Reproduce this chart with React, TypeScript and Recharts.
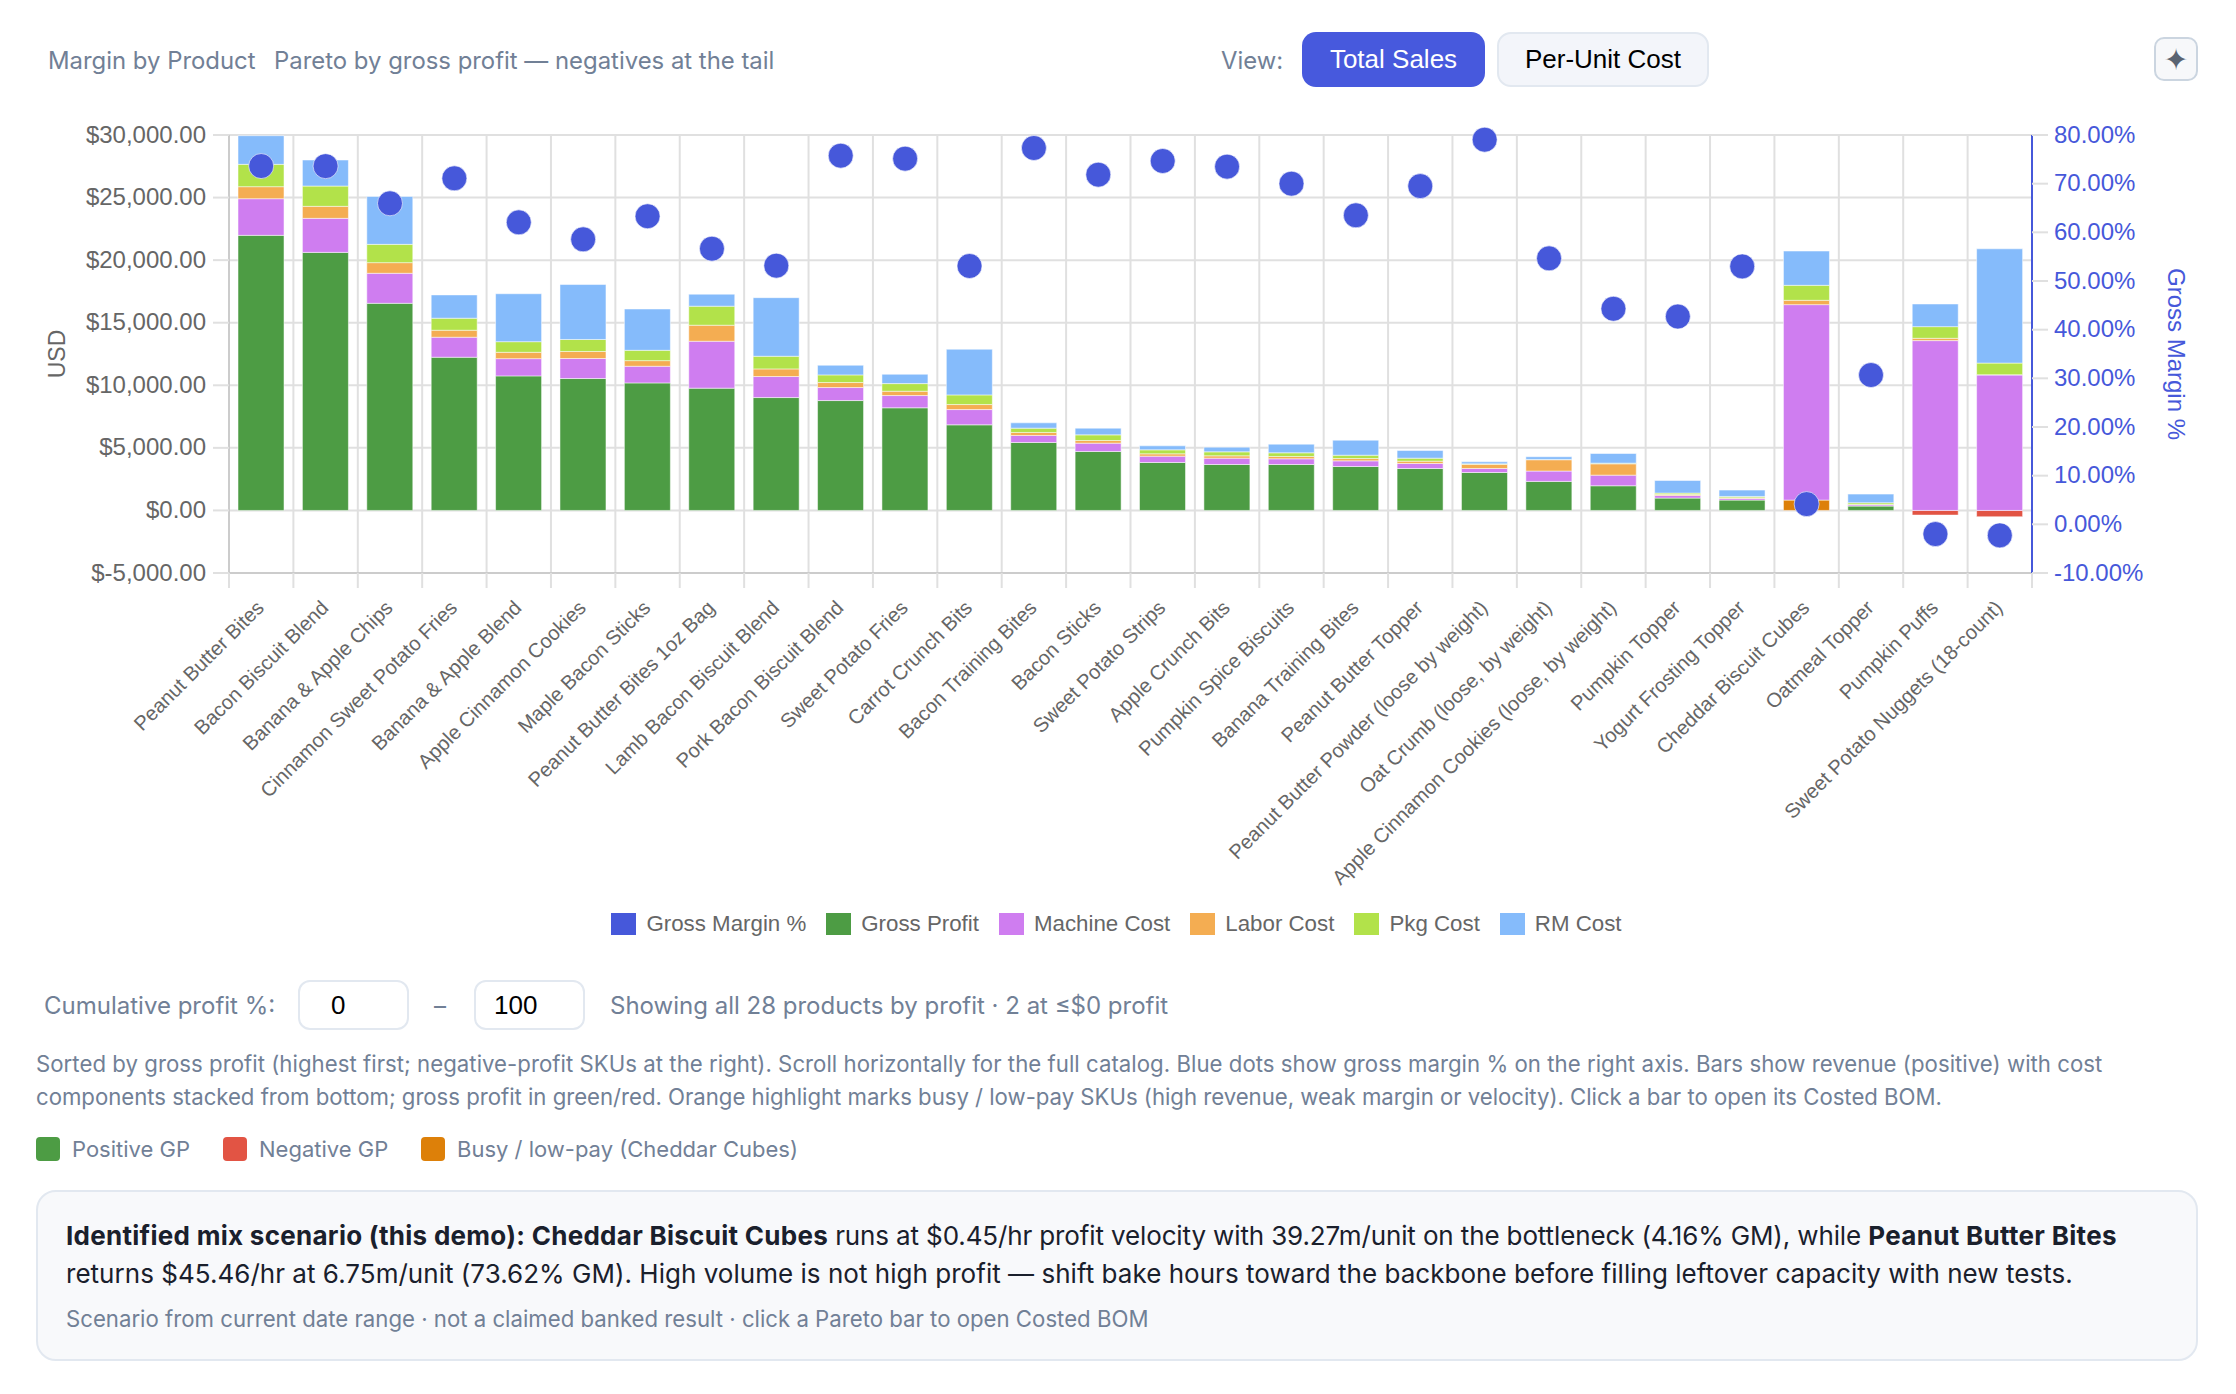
import { Bar, CartesianGrid, Cell, ComposedChart, Legend, Line, XAxis, YAxis } from 'recharts';

const products = [
  'Peanut Butter Bites', 'Bacon Biscuit Blend', 'Banana & Apple Chips', 'Cinnamon Sweet Potato Fries',
  'Banana & Apple Blend', 'Apple Cinnamon Cookies', 'Maple Bacon Sticks', 'Peanut Butter Bites 1oz Bag',
  'Lamb Bacon Biscuit Blend', 'Pork Bacon Biscuit Blend', 'Sweet Potato Fries', 'Carrot Crunch Bits',
  'Bacon Training Bites', 'Bacon Sticks', 'Sweet Potato Strips', 'Apple Crunch Bits',
  'Pumpkin Spice Biscuits', 'Banana Training Bites', 'Peanut Butter Topper', 'Peanut Butter Powder (loose by weight)',
  'Oat Crumb (loose, by weight)', 'Apple Cinnamon Cookies (loose, by weight)', 'Pumpkin Topper', 'Yogurt Frosting Topper',
  'Cheddar Biscuit Cubes', 'Oatmeal Topper', 'Pumpkin Puffs', 'Sweet Potato Nuggets (18-count)',
];
const grossProfit = [21980, 20620, 16550, 12240, 10750, 10540, 10190, 9770, 9020, 8780, 8200, 6840, 5430, 4710, 3830, 3670, 3670, 3510, 3350, 3030, 2320, 1970, 985, 825, 825, 346, -372, -505];
const machineCost = [2930, 2720, 2400, 1600, 1380, 1600, 1330, 3750, 1680, 1040, 980, 1220, 560, 665, 505, 505, 455, 450, 400, 320, 825, 850, 212, 133, 15620, 106, 13570, 10830];
const laborCost = [960, 960, 850, 560, 505, 560, 450, 1280, 610, 400, 345, 400, 240, 213, 187, 187, 187, 186, 186, 346, 905, 905, 80, 53, 346, 27, 186, 15];
const pkgCost = [1785, 1620, 1460, 960, 850, 960, 825, 1520, 1010, 610, 610, 770, 345, 450, 320, 320, 293, 266, 240, 26, 26, 54, 107, 107, 1197, 133, 930, 930];
const rmCost = [2290, 2080, 3830, 1860, 3830, 4390, 3300, 960, 4680, 770, 745, 3650, 425, 533, 320, 373, 690, 1200, 610, 160, 213, 770, 1010, 505, 2740, 692, 1810, 9130];
const grossMarginPct = [73.62, 73.6, 65.96, 71.1, 62.05, 58.56, 63.3, 56.64, 53.15, 75.75, 75.14, 53.08, 77.33, 71.85, 74.66, 73.5, 70, 63.5, 69.5, 79.04, 54.65, 44.3, 42.7, 53, 4.16, 30.68, -2, -2.27];

const usdTicks = [-5000, 0, 5000, 10000, 15000, 20000, 25000, 30000];
const marginTicks = [-10, 0, 10, 20, 30, 40, 50, 60, 70, 80];
const legendOrder = ['Gross Margin %', 'Gross Profit', 'Machine Cost', 'Labor Cost', 'Pkg Cost', 'RM Cost'];

const rows = products.map((name, i) => ({
  name,
  grossProfit: grossProfit[i],
  machineCost: machineCost[i],
  laborCost: laborCost[i],
  pkgCost: pkgCost[i],
  rmCost: rmCost[i],
  grossMarginPct: grossMarginPct[i],
}));

const BLUE = '#4658da';
const GREEN = '#4d9c44';
const RED = '#e25444';
const ORANGE = '#dd8009';
const MUTED = '#718096';
const CHART_FONT = '"Liberation Sans", Arial, sans-serif';
const UI_FONT = 'Inter, sans-serif';

const STEP = 1803 / 28;

const fmtUsd = (v: number) =>
  `$${v.toLocaleString('en-US', { minimumFractionDigits: 2, maximumFractionDigits: 2 })}`;
const fmtPct = (v: number) => `${v.toFixed(2)}%`;

// ticks sit on the category edges, the label hangs off the centre
function CategoryTick({ x, y, payload, index }: any) {
  const edge = x - STEP / 2;
  return (
    <g>
      <line x1={edge} x2={edge} y1={y} y2={y + 15} stroke="#e0e0e0" strokeWidth={2} />
      {index === products.length - 1 && (
        <line x1={x + STEP / 2} x2={x + STEP / 2} y1={y} y2={y + 15} stroke="#e0e0e0" strokeWidth={2} />
      )}
      <text
        x={x + 4}
        y={y + 36}
        textAnchor="end"
        fontSize={20.2}
        fontFamily={CHART_FONT}
        fill="#666"
        transform={`rotate(-45 ${x + 4} ${y + 36})`}
      >
        {payload.value}
      </text>
    </g>
  );
}

function ChartLegend({ payload }: any) {
  const items = [...(payload || [])].sort((a, b) => legendOrder.indexOf(a.value) - legendOrder.indexOf(b.value));
  return (
    <div style={{ display: 'flex', justifyContent: 'center', alignItems: 'center', gap: 20, height: 48, fontFamily: CHART_FONT, fontSize: 22.3, color: '#666' }}>
      {items.map((it: any) => (
        <div key={it.value} style={{ display: 'flex', alignItems: 'center', gap: 10 }}>
          <span style={{ width: 25, height: 22, background: it.color, display: 'block' }} />
          <span>{it.value}</span>
        </div>
      ))}
    </div>
  );
}

function Abs({ x, y, style, children }: any) {
  // y is the vertical centre of the line
  return (
    <div style={{ position: 'absolute', left: x, top: y, transform: 'translateY(-50%)', whiteSpace: 'nowrap', fontFamily: UI_FONT, ...style }}>
      {children}
    </div>
  );
}

function Box({ x, y, w, h, style, children }: any) {
  return (
    <div style={{ position: 'absolute', left: x, top: y, width: w, height: h, boxSizing: 'border-box', display: 'flex', alignItems: 'center', justifyContent: 'center', ...style }}>
      {children}
    </div>
  );
}

function Swatch({ x, color }: any) {
  return <div style={{ position: 'absolute', left: x, top: 1137, width: 24, height: 24, borderRadius: 4, background: color }} />;
}

export default function App() {
  return (
    <div style={{ position: 'absolute', left: 0, top: 0, width: 2236, height: 1394, background: '#fff', overflow: 'hidden' }}>
      <Abs x={48} y={59.5} style={{ fontSize: 23.9, color: MUTED }}>Margin by Product</Abs>
      <Abs x={274} y={59.5} style={{ fontSize: 23.9, color: MUTED }}>Pareto by gross profit — negatives at the tail</Abs>
      <Abs x={1221} y={60} style={{ fontSize: 23.85, color: MUTED }}>View:</Abs>
      <Box x={1302} y={32} w={183} h={55} style={{ background: '#4759dd', borderRadius: 14, color: '#fff', fontFamily: CHART_FONT, fontSize: 26 }}>Total Sales</Box>
      <Box x={1497} y={32} w={212} h={55} style={{ background: '#f3f5fa', border: '2px solid #e2e8f0', borderRadius: 14, color: '#000', fontFamily: CHART_FONT, fontSize: 26 }}>Per-Unit Cost</Box>
      <Box x={2154} y={37} w={44} h={44} style={{ background: '#f7f8fa', border: '2px solid #cbd5e0', borderRadius: 10, color: '#5a6472', fontFamily: '"DejaVu Sans"', fontSize: 30 }}>✦</Box>

      <div style={{ position: 'absolute', left: 0, top: 0 }}>
        <ComposedChart
          width={2236}
          height={960}
          data={rows}
          stackOffset="sign"
          barCategoryGap="14%"
          margin={{ top: 135, right: 0, bottom: 0, left: 0 }}
        >
          <CartesianGrid
            yAxisId="usd"
            stroke="#e0e0e0"
            strokeWidth={2}
            verticalCoordinatesGenerator={({ offset }: any) =>
              products.map((_, i) => offset.left + (i * offset.width) / products.length).concat(offset.left + offset.width)
            }
          />
          <XAxis
            dataKey="name"
            interval={0}
            height={339}
            tickLine={false}
            tickSize={0}
            tickMargin={0}
            axisLine={{ stroke: '#ccc', strokeWidth: 2 }}
            tick={<CategoryTick />}
          />
          <YAxis
            yAxisId="usd"
            width={229}
            domain={[-5000, 30000]}
            ticks={usdTicks}
            tickFormatter={fmtUsd}
            tick={{ fontSize: 24, fill: '#666', fontFamily: CHART_FONT, dy: -1 }}
            tickLine={{ stroke: '#e0e0e0', strokeWidth: 2 }}
            tickSize={16}
            tickMargin={7}
            axisLine={{ stroke: '#ccc', strokeWidth: 2 }}
            label={{ value: 'USD', angle: -90, position: 'insideLeft', offset: 57, style: { fontSize: 23, fill: '#666', fontFamily: CHART_FONT, textAnchor: 'middle' } }}
          />
          <YAxis
            yAxisId="gm"
            orientation="right"
            width={204}
            domain={[-10, 80]}
            ticks={marginTicks}
            tickFormatter={fmtPct}
            tick={{ fontSize: 24, fill: BLUE, fontFamily: CHART_FONT, dy: -1 }}
            tickLine={{ stroke: '#e0e0e0', strokeWidth: 2 }}
            tickSize={16}
            tickMargin={6}
            axisLine={{ stroke: BLUE, strokeWidth: 2 }}
            label={{ value: 'Gross Margin %', angle: 90, position: 'insideRight', offset: 59, style: { fontSize: 24, fill: BLUE, fontFamily: CHART_FONT, textAnchor: 'middle' } }}
          />
          <Legend
            content={<ChartLegend />}
            wrapperStyle={{ position: 'absolute', left: 0, top: 900, width: 2233, height: 48 }}
          />
          <Bar yAxisId="usd" dataKey="grossProfit" name="Gross Profit" stackId="cost" fill={GREEN} stroke="#fff" strokeOpacity={0.5} isAnimationActive={false}>
            {rows.map((r) => (
              <Cell key={r.name} fill={r.grossProfit < 0 ? RED : r.name === 'Cheddar Biscuit Cubes' ? ORANGE : GREEN} />
            ))}
          </Bar>
          <Bar yAxisId="usd" dataKey="machineCost" name="Machine Cost" stackId="cost" fill="#cf7df0" stroke="#fff" strokeOpacity={0.5} isAnimationActive={false} />
          <Bar yAxisId="usd" dataKey="laborCost" name="Labor Cost" stackId="cost" fill="#f4ad52" stroke="#fff" strokeOpacity={0.5} isAnimationActive={false} />
          <Bar yAxisId="usd" dataKey="pkgCost" name="Pkg Cost" stackId="cost" fill="#b2e24a" stroke="#fff" strokeOpacity={0.5} isAnimationActive={false} />
          <Bar yAxisId="usd" dataKey="rmCost" name="RM Cost" stackId="cost" fill="#85bbfb" stroke="#fff" strokeOpacity={0.5} isAnimationActive={false} />
          <Line
            yAxisId="gm"
            dataKey="grossMarginPct"
            name="Gross Margin %"
            stroke={BLUE}
            strokeWidth={0}
            dot={{ r: 12.5, fill: BLUE, stroke: '#fff', strokeWidth: 1, strokeOpacity: 0.6 }}
            activeDot={false}
            isAnimationActive={false}
          />
        </ComposedChart>
      </div>

      <Abs x={44} y={1005} style={{ fontSize: 24, color: MUTED }}>Cumulative profit %:</Abs>
      <Box x={298} y={980} w={111} h={50} style={{ border: '2px solid #e2e8f0', borderRadius: 12, background: '#fff' }} />
      <Abs x={331} y={1005} style={{ fontSize: 26, color: '#000', fontFamily: CHART_FONT }}>0</Abs>
      <Abs x={434} y={1005} style={{ fontSize: 24, color: MUTED }}>–</Abs>
      <Box x={474} y={980} w={111} h={50} style={{ border: '2px solid #e2e8f0', borderRadius: 12, background: '#fff' }} />
      <Abs x={494} y={1005} style={{ fontSize: 26, color: '#000', fontFamily: CHART_FONT }}>100</Abs>
      <Abs x={610} y={1005} style={{ fontSize: 24, color: MUTED }}>Showing all 28 products by profit · 2 at ≤$0 profit</Abs>

      <Abs x={36} y={1063} style={{ fontSize: 22.2, letterSpacing: 0.035, color: MUTED }}>
        Sorted by gross profit (highest first; negative-profit SKUs at the right). Scroll horizontally for the full catalog. Blue dots show gross margin % on the right axis. Bars show revenue (positive) with cost
      </Abs>
      <Abs x={36} y={1096} style={{ fontSize: 22.2, letterSpacing: -0.025, color: MUTED }}>
        components stacked from bottom; gross profit in green/red. Orange highlight marks busy / low-pay SKUs (high revenue, weak margin or velocity). Click a bar to open its Costed BOM.
      </Abs>

      <Swatch x={36} color={GREEN} />
      <Abs x={72} y={1149} style={{ fontSize: 22, color: MUTED }}>Positive GP</Abs>
      <Swatch x={223} color={RED} />
      <Abs x={259} y={1149} style={{ fontSize: 22, color: MUTED }}>Negative GP</Abs>
      <Swatch x={421} color={ORANGE} />
      <Abs x={457} y={1149} style={{ fontSize: 22, color: MUTED }}>Busy / low-pay (Cheddar Cubes)</Abs>

      <div style={{ position: 'absolute', left: 36, top: 1190, width: 2162, height: 171, boxSizing: 'border-box', background: '#f8f9fb', border: '2px solid #e2e8f0', borderRadius: 20 }} />
      <Abs x={66} y={1235} style={{ fontSize: 26, letterSpacing: -0.13, color: '#1a202c' }}>
        <b style={{ letterSpacing: 0.28 }}>Identified mix scenario (this demo): Cheddar Biscuit Cubes</b> runs at $0.45/hr profit velocity with 39.27m/unit on the bottleneck (4.16% GM), while <b style={{ letterSpacing: 0.32 }}>Peanut Butter Bites</b>
      </Abs>
      <Abs x={66} y={1273} style={{ fontSize: 26, letterSpacing: 0.03, color: '#1a202c' }}>
        returns $45.46/hr at 6.75m/unit (73.62% GM). High volume is not high profit — shift bake hours toward the backbone before filling leftover capacity with new tests.
      </Abs>
      <Abs x={66} y={1318} style={{ fontSize: 22.2, color: MUTED }}>
        Scenario from current date range · not a claimed banked result · click a Pareto bar to open Costed BOM
      </Abs>
    </div>
  );
}
